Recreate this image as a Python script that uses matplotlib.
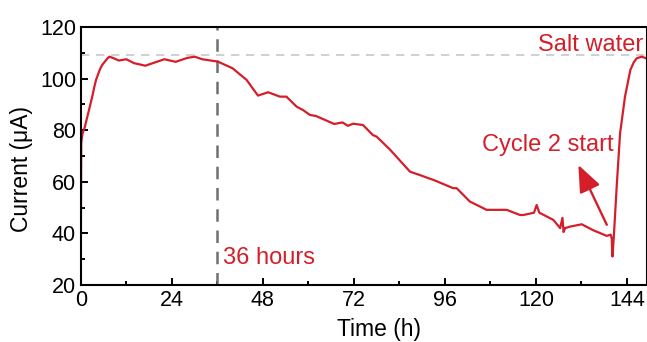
import numpy as np
import matplotlib.pyplot as plt
from matplotlib.ticker import MultipleLocator

plt.rcParams["font.family"] = ["Liberation Sans", "DejaVu Sans"]

# current trace (time in h, current in uA)
time_h = [0.0, 0.1, 0.3, 0.5, 1.0, 1.5, 2.0, 2.5, 3.0, 3.5, 4.0, 4.5, 5.0,
          5.5, 6.0, 7.0, 7.5, 8.5, 10, 12, 14, 17, 20, 22,
          25, 28, 30, 32, 36.1, 40, 43.7, 46.7, 49.4, 52.5, 54.2, 56.9, 58.6,
          60.4, 62, 66.8, 69, 70.4, 71.8, 74.4, 77, 78, 81.5, 86.8, 89.4, 92,
          93, 98.2, 99.1, 102.6, 104.4, 107, 107.9, 112.3, 115.8, 116.7, 119.5,
          120.2, 120.9, 124.6, 126.4, 127.0, 127.3, 127.7, 129, 132.1, 135.1,
          138.7, 139.7, 140.0, 140.2, 140.6, 141.3, 142.2, 143.5, 144.9, 145.8,
          146.6, 147.9, 149.2]
current_ua = [40, 75, 77.5, 79, 81, 84, 87, 90, 93, 96.5, 99.5, 101.5, 103.5,
              105, 106, 107.8, 108.5, 108, 107, 107.5, 106, 105,
              106.5, 107.5, 106.5, 108, 108.5, 107.5, 106.6, 104, 99.5, 93.4,
              94.7, 93, 93, 89.1, 87.8, 85.9, 85.5, 82.4, 83, 81.7, 82.5, 82,
              78.1, 77.5, 72.5, 63.9, 62.6, 61.2, 60.7, 57.5, 57.5, 52.3, 51,
              49.1, 49.1, 49.1, 47.1, 47.1, 48, 51, 48, 45.2, 42, 46, 40.5, 42,
              42.6, 43.5, 41.2, 39, 39.5, 38, 31, 40, 58, 78.8, 93, 103.3, 106.3,
              107.9, 108.5, 107.8]

red = "#d41f2a"
salt_level = 109
mark_time = 36

fig = plt.figure(figsize=(6.47, 3.42), dpi=100)
ax = fig.add_axes([0.125, 0.167, 0.875, 0.754])

ax.axhline(salt_level, color="#c8c8c8", linestyle=(0, (5, 4)), linewidth=1.2)
ax.axvline(mark_time, color="#707070", linestyle=(0, (5, 3.5)), linewidth=1.8)
ax.plot(time_h, current_ua, color=red, linewidth=1.6)

ax.text(148.2, 113, "Salt water", color=red, fontsize=17, ha="right", va="center")
ax.text(37.5, 30.5, "36 hours", color=red, fontsize=17, ha="left", va="center")
ax.text(105.8, 74.3, "Cycle 2 start", color=red, fontsize=17, ha="left", va="center")
ax.annotate("", xy=(131.2, 66.5), xytext=(138.7, 43.3),
            arrowprops=dict(arrowstyle="-|>,head_length=1.1,head_width=0.45",
                            mutation_scale=15, color=red, linewidth=1.7,
                            shrinkA=0, shrinkB=0))

ax.set_xlim(0, 149.3)
ax.set_ylim(20, 120)
ax.xaxis.set_major_locator(MultipleLocator(24))
ax.xaxis.set_minor_locator(MultipleLocator(12))
ax.yaxis.set_major_locator(MultipleLocator(20))
ax.yaxis.set_minor_locator(MultipleLocator(10))
ax.tick_params(which="both", direction="in", labelsize=15.5, width=1.4)
ax.tick_params(which="major", length=5)
ax.tick_params(which="minor", length=3)
for s in ax.spines.values():
    s.set_linewidth(1.5)

ax.set_xlabel("Time (h)", fontsize=16.5)
ax.set_ylabel("Current (μA)", fontsize=16.5)
ax.xaxis.set_label_coords(0.527, -0.13)
ax.yaxis.set_label_coords(-0.085, 0.45)

fig.savefig("out.png", dpi=100)
